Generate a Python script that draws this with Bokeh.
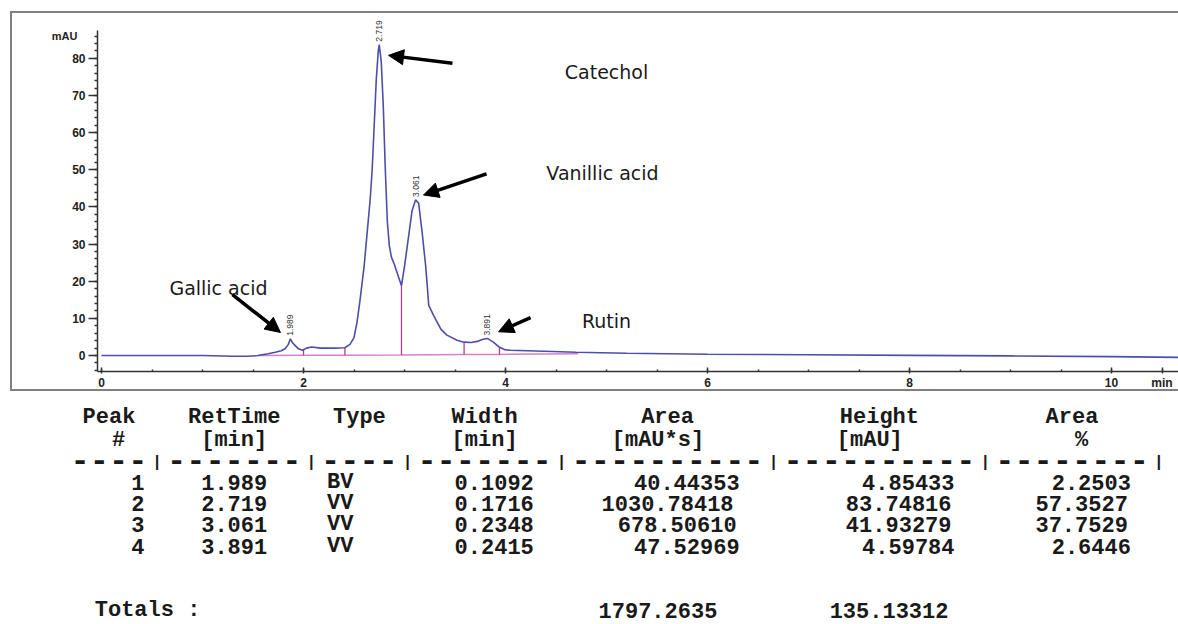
import numpy as np
from bokeh.plotting import figure
from bokeh.models import (Range1d, FixedTicker, ColumnDataSource, Arrow, NormalHead,
                          Label, LabelSet, LinearAxis)
from bokeh.layouts import column
from bokeh.core.properties import value
from bokeh.embed import file_html
from bokeh.resources import INLINE

# ---------------- data ----------------
time_min = [0.00, 0.50, 1.00, 1.30, 1.45, 1.55, 1.65, 1.72, 1.78, 1.82,
            1.85, 1.87, 1.89, 1.92, 1.95, 1.99, 2.03, 2.08, 2.17, 2.30,
            2.41, 2.46, 2.50, 2.53, 2.56, 2.60, 2.63, 2.66, 2.68, 2.70,
            2.72, 2.74, 2.75, 2.77, 2.79, 2.81, 2.83, 2.85, 2.87, 2.90,
            2.93, 2.97, 3.00, 3.03, 3.075, 3.11, 3.14, 3.175, 3.21, 3.24,
            3.29, 3.36, 3.42, 3.52, 3.59, 3.66, 3.72, 3.77, 3.82, 3.88,
            3.94, 3.99, 4.05, 4.30, 4.70, 5.20, 6.00, 7.00, 8.00, 9.00,
            10.00, 10.66]
signal_mau = [0.0, 0.0, 0.0, -0.2, -0.2, 0.0, 0.5, 0.9, 1.3, 1.9,
              3.0, 4.5, 3.5, 2.6, 1.8, 1.4, 2.0, 2.3, 2.0, 2.0,
              2.1, 3.0, 4.8, 9.0, 15.0, 24.0, 33.0, 42.0, 50.0, 62.0,
              74.0, 82.0, 83.7, 79.0, 67.0, 50.0, 36.0, 29.5, 26.5, 24.5,
              22.0, 18.8, 24.0, 30.0, 39.0, 41.9, 41.0, 33.0, 24.0, 13.5,
              10.7, 7.1, 5.5, 4.1, 3.6, 3.5, 3.8, 4.3, 4.6, 3.6,
              2.2, 1.6, 1.4, 1.2, 0.9, 0.6, 0.35, 0.2, 0.05, -0.1,
              -0.3, -0.5]

baseline_t = [1.55, 2.00, 2.41, 2.97, 3.59, 3.94, 4.72]
baseline_y = [0.0, 0.05, 0.1, 0.15, 0.25, 0.3, 0.45]
drop_t = [2.00, 2.41, 2.97, 3.59, 3.94]

peak_apex_t = [1.87, 2.75, 3.11, 3.82]
peak_labels = ["1.989", "2.719", "3.061", "3.891"]
compound_names = ["Gallic acid", "Catechol", "Vanillic acid", "Rutin"]

x_ticks = [0, 2, 4, 6, 8, 10]
y_ticks = [0, 10, 20, 30, 40, 50, 60, 70, 80]
x_unit = "min"
y_unit = "mAU"

# report table
hdr1 = ["Peak", "RetTime", "Type", "Width", "Area", "Height", "Area"]
hdr2 = ["#", "[min]", "[min]", "[mAU*s]", "[mAU]", "%"]
tbl_peak = ["1", "2", "3", "4"]
tbl_rettime = ["1.989", "2.719", "3.061", "3.891"]
tbl_type = ["BV", "VV", "VV", "VV"]
tbl_width = ["0.1092", "0.1716", "0.2348", "0.2415"]
tbl_area = ["40.44353", "1030.78418", "678.50610", "47.52969"]
tbl_height = ["4.85433", "83.74816", "41.93279", "4.59784"]
tbl_pct = ["2.2503", "57.3527", "37.7529", "2.6446"]
totals_label = "Totals :"
total_area = "1797.2635"
total_height = "135.13312"
sep_runs = [4, 7, 4, 7, 10, 10, 8]

# ---------------- chromatogram ----------------
CURVE = "#4d4dab"
BASE = "#d77fd0"
DROP = "#b0408f"
AXC = "#333333"

p = figure(width=1178, height=392, x_range=Range1d(-0.0396, 10.663),
           y_range=Range1d(-4.30, 91.8), output_backend="svg",
           toolbar_location=None, min_border_left=97, min_border_right=0,
           min_border_top=14, min_border_bottom=20)
p.frame_align = False
p.grid.visible = False
p.outline_line_color = None
p.border_fill_color = None
p.background_fill_color = None
p.styles = {
    "background-image": "linear-gradient(#808080,#808080), linear-gradient(#808080,#808080), "
                        "linear-gradient(#808080,#808080)",
    "background-size": "2px 379px, 1170px 2px, 1170px 2px",
    "background-position": "10px 11px, 10px 11px, 10px 389px",
    "background-repeat": "no-repeat",
}

UNIT_TICK = 10.5
p.xaxis.ticker = FixedTicker(ticks=x_ticks + [UNIT_TICK],
                             minor_ticks=list(np.arange(0, 10.75, 0.5)))
p.xaxis.major_label_overrides = {UNIT_TICK: x_unit}
p.yaxis.ticker = FixedTicker(ticks=y_ticks, minor_ticks=list(np.arange(-4, 88, 2)))
p.yaxis.bounds = (-4.3, 87.5)
for ax in (p.xaxis[0], p.yaxis[0]):
    ax.axis_line_color = AXC
    ax.axis_line_width = 1.5
    ax.major_tick_line_color = AXC
    ax.minor_tick_line_color = AXC
    ax.major_tick_line_width = 1.5
    ax.minor_tick_line_width = 1.5
    ax.major_label_text_font = "Liberation Sans"
    ax.major_label_text_font_style = "bold"
    ax.major_label_text_font_size = "12px"
    ax.major_label_text_color = "#222222"
p.yaxis.major_tick_out = 9
p.yaxis.major_tick_in = 0
p.yaxis.minor_tick_out = 3
p.yaxis.minor_tick_in = 0
p.yaxis.major_label_standoff = 3
p.xaxis.major_tick_in = 4
p.xaxis.major_tick_out = 2
p.xaxis.minor_tick_in = 2
p.xaxis.minor_tick_out = 0
p.xaxis.major_label_standoff = 2

# unit label on the y side
unit_ax = LinearAxis(ticker=FixedTicker(ticks=[86]), major_label_overrides={86: y_unit},
                     axis_line_color=None, major_tick_line_color=None,
                     minor_tick_line_color=None, major_label_standoff=-14,
                     major_label_text_font="Liberation Sans",
                     major_label_text_font_style="bold",
                     major_label_text_font_size="11px", major_label_text_color="#222222")
p.add_layout(unit_ax, "left")

# baseline and drop lines
p.line(baseline_t, baseline_y, line_color=BASE, line_width=1.5)
drop_top = np.interp(drop_t, time_min, signal_mau)
drop_bot = np.interp(drop_t, baseline_t, baseline_y)
p.segment(x0=drop_t, y0=drop_bot, x1=drop_t, y1=drop_top, line_color=DROP, line_width=1.3)

# trace
p.line(time_min, signal_mau, line_color=CURVE, line_width=1.6)

# peak retention labels
apex_h = np.interp(peak_apex_t, time_min, signal_mau)
lab_src = ColumnDataSource(dict(x=peak_apex_t, y=list(apex_h + 0.8), text=peak_labels))
p.add_layout(LabelSet(x="x", y="y", text="text", source=lab_src, angle=np.pi / 2,
                      text_align="left", text_baseline="middle", text_font_size="8.5px",
                      text_font=value("Liberation Sans"), text_color="#333333"))

# compound names and arrows (layout)
name_pos = [(1.158, 18.3), (5.0, 76.2), (4.96, 49.1), (5.0, 9.4)]
for name, (nx, ny) in zip(compound_names, name_pos):
    p.add_layout(Label(x=nx, y=ny, text=name, text_align="center", text_baseline="middle",
                       text_font="DejaVu Sans", text_font_size="19px", text_color="#1a1a1a"))
arrows = [((1.297, 16.4), (1.772, 6.2)), ((3.475, 78.7), (2.842, 80.8)),
          ((3.812, 48.9), (3.188, 43.2)), ((4.248, 10.2), (3.931, 6.4))]
for (xs, ys), (xe, ye) in arrows:
    p.add_layout(Arrow(end=NormalHead(size=15, fill_color="black", line_color="black"),
                       x_start=xs, y_start=ys, x_end=xe, y_end=ye,
                       line_color="black", line_width=3.5))

# ---------------- report table ----------------
X0, PITCH = 70.0, 19.26
def left_c(start, s):
    return X0 + (start + len(s) / 2.0) * PITCH
def right_c(end, s):
    return X0 + (end + 1 - len(s) / 2.0) * PITCH

t = figure(width=1178, height=232, x_range=Range1d(0, 1178), y_range=Range1d(624, 392),
           output_backend="svg", toolbar_location=None, min_border=0,
           x_axis_location=None, y_axis_location=None)
t.frame_align = False
t.grid.visible = False
t.outline_line_color = None

xs, ys, txt = [], [], []
for s, st in zip(hdr1, [0, 5, 13, 19, 29, 39, 50]):
    xs.append(left_c(st, s)); ys.append(417); txt.append(s)
for s, st in zip(hdr2, [2, 6, 19, 27, 39, 52]):
    xs.append(left_c(st, s)); ys.append(440); txt.append(s)
row_y = [482, 503, 524, 546]
for i, ry in enumerate(row_y):
    for s, end in ((tbl_peak[i], 3), (tbl_rettime[i], 10), (tbl_area[i], 35),
                   (tbl_height[i], 46), (tbl_pct[i], 55)):
        xs.append(right_c(end, s)); ys.append(ry); txt.append(s)
    for s, st in ((tbl_type[i], 13), (tbl_width[i], 19)):
        xs.append(left_c(st, s)); ys.append(ry); txt.append(s)
xs.append(left_c(0, totals_label)); ys.append(610); txt.append(totals_label)
xs.append(right_c(34, total_area)); ys.append(610); txt.append(total_area)
xs.append(right_c(46, total_height)); ys.append(610); txt.append(total_height)
t.text(x=xs, y=ys, text=txt, text_align="center", text_baseline="middle",
       text_font=value("Liberation Mono"), text_font_style="bold",
       text_font_size="22px", text_color="#1a1a1a")

# separator row
dx, dt, bx, bt = [], [], [], []
idx = 0
for n in sep_runs:
    run = "-" * n
    dx.append(left_c(idx, run)); dt.append(run)
    idx += n
    bx.append(left_c(idx, "|")); bt.append("|")
    idx += 1
t.text(x=dx, y=[459] * len(dx), text=dt, text_align="center", text_baseline="middle",
       text_font=value("Liberation Mono"), text_font_style="bold",
       text_font_size="32px", text_color="#1a1a1a")
t.text(x=bx, y=[462] * len(bx), text=bt, text_align="center", text_baseline="middle",
       text_font=value("Liberation Mono"), text_font_style="bold",
       text_font_size="16px", text_color="#1a1a1a")

layout = column(p, t)
open("out.html", "w").write(file_html(layout, INLINE))
